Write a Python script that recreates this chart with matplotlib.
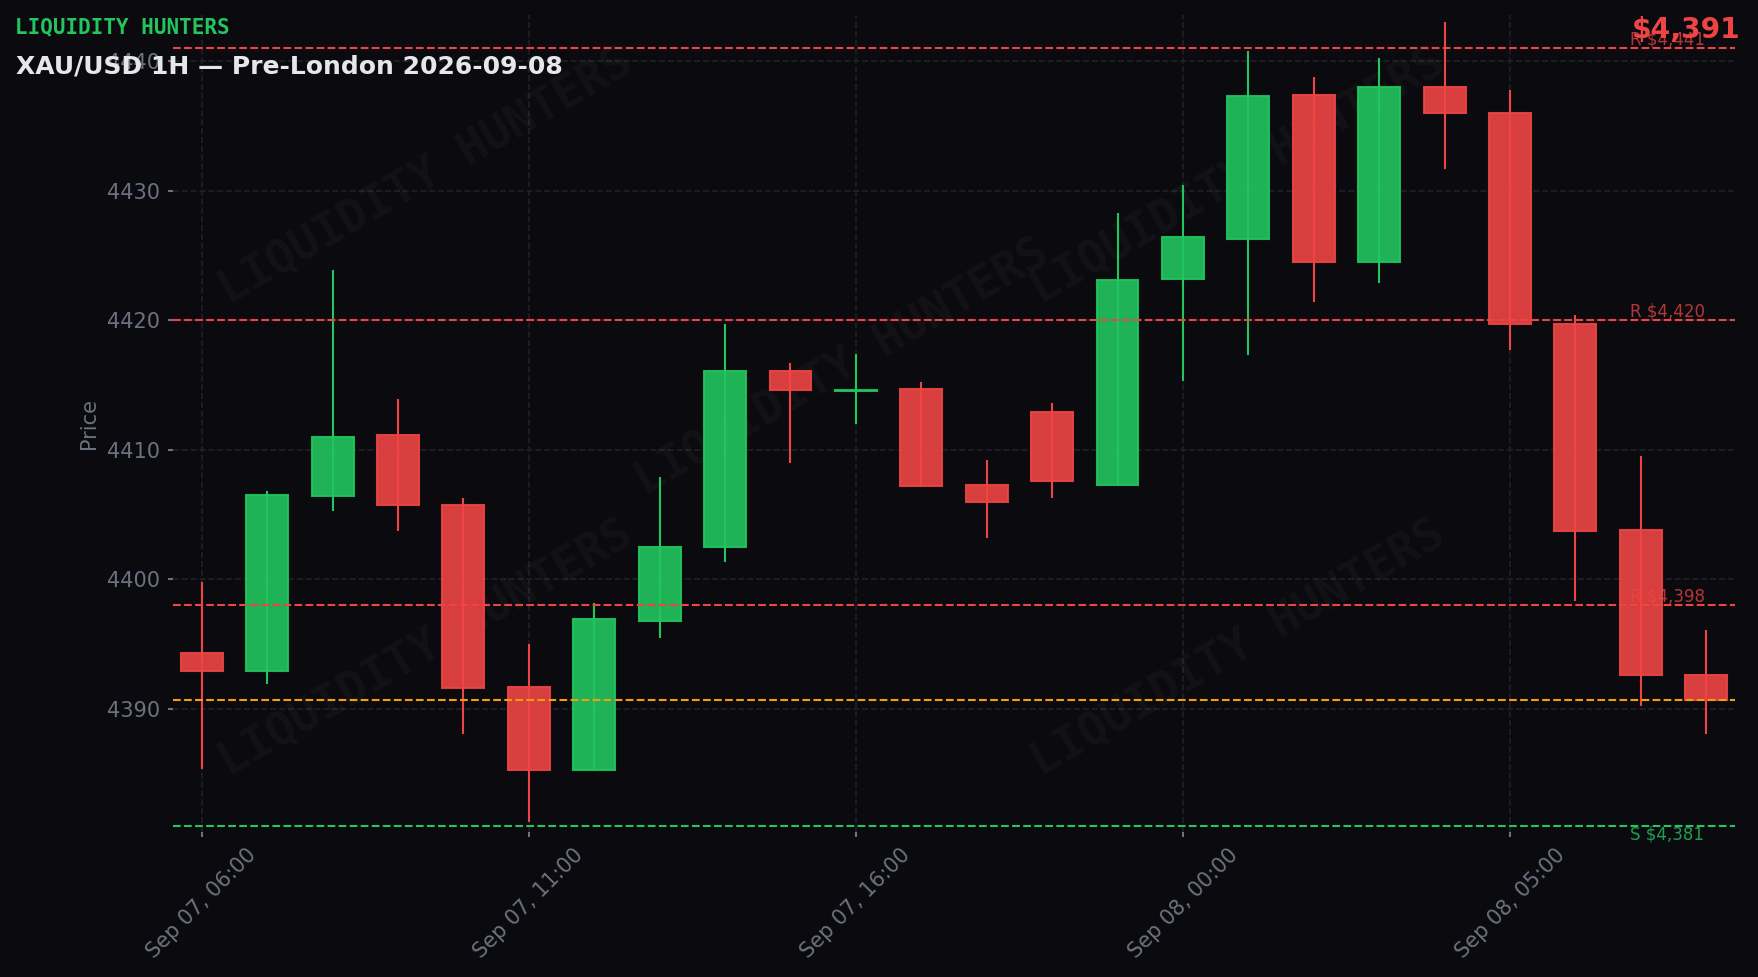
import matplotlib
matplotlib.use('Agg')
import matplotlib.pyplot as plt
import matplotlib.transforms as mtransforms

# ---- data ----
opens  = [4394.3, 4392.9, 4406.4, 4411.1, 4405.7, 4391.7, 4385.3, 4396.8, 4402.5, 4416.1, 4414.5, 4414.7,
          4407.3, 4412.9, 4407.3, 4423.2, 4426.3, 4437.4, 4424.5, 4438.0, 4436.0, 4419.7, 4403.8, 4392.6]
highs  = [4399.8, 4406.8, 4423.9, 4413.9, 4406.3, 4395.0, 4398.2, 4407.9, 4419.7, 4416.7, 4417.4, 4415.2,
          4409.2, 4413.6, 4428.3, 4430.4, 4440.8, 4438.8, 4440.2, 4443.0, 4437.8, 4420.4, 4409.5, 4396.1]
lows   = [4385.4, 4391.9, 4405.3, 4403.7, 4388.1, 4381.3, 4385.3, 4395.5, 4401.3, 4409.0, 4412.0, 4407.1,
          4403.2, 4406.3, 4407.2, 4415.3, 4417.3, 4421.4, 4422.9, 4431.7, 4417.7, 4398.3, 4390.2, 4388.1]
closes = [4392.9, 4406.5, 4411.0, 4405.7, 4391.6, 4385.3, 4396.9, 4402.5, 4416.1, 4414.6, 4414.6, 4407.2,
          4406.0, 4407.6, 4423.1, 4426.4, 4437.3, 4424.5, 4438.0, 4436.0, 4419.7, 4403.7, 4392.6, 4390.7]
tick_idx = [0, 5, 10, 15, 20]
tick_labels = ['Sep 07, 06:00', 'Sep 07, 11:00', 'Sep 07, 16:00', 'Sep 08, 00:00', 'Sep 08, 05:00']
resistance = [4441, 4420, 4398]
support = [4381]
title = 'XAU/USD 1H \u2014 Pre-London 2026-09-08'
brand = 'LIQUIDITY HUNTERS'

# ---- style ----
BG = '#0b0b0f'
GREEN = '#22c55e'
RED = '#ef4444'
ORANGE = '#f59e0b'
GREY = '#6b7280'
GRID = '#1f2129'

W, H, DPI = 1758, 977, 150
fig = plt.figure(figsize=(W / DPI, H / DPI), dpi=DPI, facecolor=BG)
ax = fig.add_axes([173 / W, 1 - 832 / H, (1735 - 173) / W, (832 - 15) / H])
ax.set_facecolor(BG)
for s in ax.spines.values():
    s.set_visible(False)

n = len(opens)
xs = list(range(n))
body_w = 0.64
for i in xs:
    o, h, l, c = opens[i], highs[i], lows[i], closes[i]
    col = GREEN if c >= o else RED
    ax.vlines(i, l, h, color=col, lw=1.0, zorder=3)
    bottom = min(o, c)
    height = max(abs(c - o), 0.05)
    ax.bar(i, height, bottom=bottom, width=body_w, color=col, alpha=0.9,
           edgecolor=col, linewidth=1.0, zorder=4)

# level lines
ltrans = mtransforms.blended_transform_factory(ax.transAxes, ax.transData)
for r in resistance:
    ax.axhline(r, color=RED, lw=1.0, ls='--', zorder=5)
    ax.text(0.933, r, f'R ${r:,}', transform=ltrans, color=RED, alpha=0.75,
            fontsize=8, ha='left', va='bottom', zorder=6)
for s in support:
    ax.axhline(s, color=GREEN, lw=1.0, ls='--', zorder=5)
    ax.text(0.933, s, f'S ${s:,}', transform=ltrans, color=GREEN, alpha=0.8,
            fontsize=8, ha='left', va='top', zorder=6)
last = closes[-1]
ax.axhline(last, color=ORANGE, lw=1.0, ls='--', zorder=5)

ax.set_xlim(-0.44, n - 1 + 0.44)
ax.set_ylim(4380.5, 4443.55)

ax.set_xticks(tick_idx)
ax.set_xticklabels(tick_labels, rotation=45)
ax.set_yticks([4390, 4400, 4410, 4420, 4430, 4440])
ax.tick_params(colors=GREY, labelcolor=GREY, labelsize=10, length=2.5, width=1)
ax.set_ylabel('Price', color=GREY, fontsize=10)
ax.grid(True, color=GRID, ls='--', lw=0.8, zorder=0)
ax.set_axisbelow(True)

# watermarks
for (wx, wy) in [(0.162, 0.803), (0.162, 0.225), (0.428, 0.569), (0.682, 0.803), (0.682, 0.225)]:
    ax.text(wx, wy, brand, transform=ax.transAxes, rotation=30, ha='center', va='center',
            fontsize=22, fontweight='bold', family='DejaVu Sans Mono',
            color='#ffffff', alpha=0.035, zorder=1)

# header texts
fig.text(0.0083, 0.966, brand, color=GREEN, fontsize=10, fontweight='bold',
         family='DejaVu Sans Mono', ha='left', va='baseline')
fig.text(0.0089, 0.925, title, color='#e5e7eb', fontsize=12, fontweight='bold',
         ha='left', va='baseline')
fig.text(0.990, 0.961, f'${last:,.0f}', color=RED, fontsize=13.5, fontweight='bold',
         ha='right', va='baseline')

fig.savefig('out.png', dpi=DPI, facecolor=BG)
